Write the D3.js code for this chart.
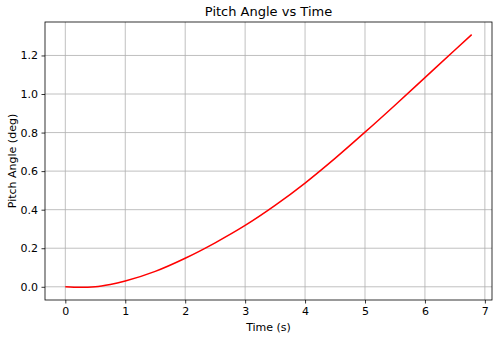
<!DOCTYPE html>
<html>
<head>
<meta charset="utf-8">
<script src="https://cdn.jsdelivr.net/npm/d3@7"></script>
<style>
  body { margin: 0; background: #fff; }
  svg text { font-family: "DejaVu Sans", sans-serif; fill: #000; }
  .grid line { stroke: #b0b0b0; stroke-width: 0.8; }
</style>
</head>
<body>
<div id="vis"></div>
<script>
const times = [0, 0.25, 0.5, 0.75, 1, 1.5, 2, 2.5, 3, 3.5, 4, 4.5, 5, 5.5, 6, 6.5, 6.78];
const pitch = [0, -0.003, 0.0, 0.012, 0.030, 0.080, 0.148, 0.228, 0.318, 0.422, 0.538, 0.666, 0.802, 0.942, 1.085, 1.228, 1.308];
const xTicks = [0, 1, 2, 3, 4, 5, 6, 7];
const yTicks = [0.0, 0.2, 0.4, 0.6, 0.8, 1.0, 1.2];

const width = 500;
const height = 340;
const margin = { top: 22, left: 45, right: 8, bottom: 40 };

const svg = d3.select('#vis')
              .append('svg')
                .attr('width', width)
                .attr('height', height);

const data = times.map((t, i) => ({ t: t, v: pitch[i] }));

// matplotlib style 5% margins
const xMin = d3.min(times), xMax = d3.max(times);
const yMin = d3.min(pitch), yMax = d3.max(pitch);
const xPad = (xMax - xMin) * 0.05;
const yPad = (yMax - yMin) * 0.05;

const x = d3.scaleLinear()
            .domain([xMin - xPad, xMax + xPad])
            .range([margin.left, width - margin.right]);
const y = d3.scaleLinear()
            .domain([yMin - yPad, yMax + yPad])
            .range([height - margin.bottom, margin.top]);

// grid
svg.append('g')
    .attr('class', 'grid')
    .selectAll('line')
    .data(xTicks)
    .join('line')
      .attr('x1', d => x(d)).attr('x2', d => x(d))
      .attr('y1', margin.top).attr('y2', height - margin.bottom);

svg.append('g')
    .attr('class', 'grid')
    .selectAll('line')
    .data(yTicks)
    .join('line')
      .attr('x1', margin.left).attr('x2', width - margin.right)
      .attr('y1', d => y(d)).attr('y2', d => y(d));

// line
const line = d3.line()
               .x(d => x(d.t))
               .y(d => y(d.v))
               .curve(d3.curveMonotoneX);

svg.append('path')
    .datum(data)
    .attr('fill', 'none')
    .attr('stroke', 'red')
    .attr('stroke-width', 1.5)
    .attr('d', line);

// axes
const xAxis = d3.axisBottom(x).tickValues(xTicks).tickSize(3.5).tickPadding(3.5).tickFormat(d3.format('d'));
const yAxis = d3.axisLeft(y).tickValues(yTicks).tickSize(3.5).tickPadding(3.5).tickFormat(d3.format('.1f'));

const gx = svg.append('g')
    .attr('transform', 'translate(0,' + (height - margin.bottom) + ')')
    .call(xAxis);
const gy = svg.append('g')
    .attr('transform', 'translate(' + margin.left + ',0)')
    .call(yAxis);

[gx, gy].forEach(g => {
  g.selectAll('.domain').remove();
  g.selectAll('.tick line').attr('stroke', '#000').attr('stroke-width', 0.8);
  g.selectAll('.tick text').attr('font-size', 11).attr('fill', '#000');
});

// frame
svg.append('rect')
    .attr('x', margin.left)
    .attr('y', margin.top)
    .attr('width', width - margin.left - margin.right)
    .attr('height', height - margin.top - margin.bottom)
    .attr('fill', 'none')
    .attr('stroke', '#000')
    .attr('stroke-width', 0.8);

// labels
svg.append('text')
    .attr('x', (margin.left + width - margin.right) / 2)
    .attr('y', 16)
    .attr('text-anchor', 'middle')
    .attr('font-size', 13)
    .text('Pitch Angle vs Time');

svg.append('text')
    .attr('x', (margin.left + width - margin.right) / 2)
    .attr('y', 331)
    .attr('text-anchor', 'middle')
    .attr('font-size', 11)
    .text('Time (s)');

svg.append('text')
    .attr('transform', 'translate(16,' + ((margin.top + height - margin.bottom) / 2) + ') rotate(-90)')
    .attr('text-anchor', 'middle')
    .attr('font-size', 11)
    .text('Pitch Angle (deg)');
</script>
</body>
</html>
